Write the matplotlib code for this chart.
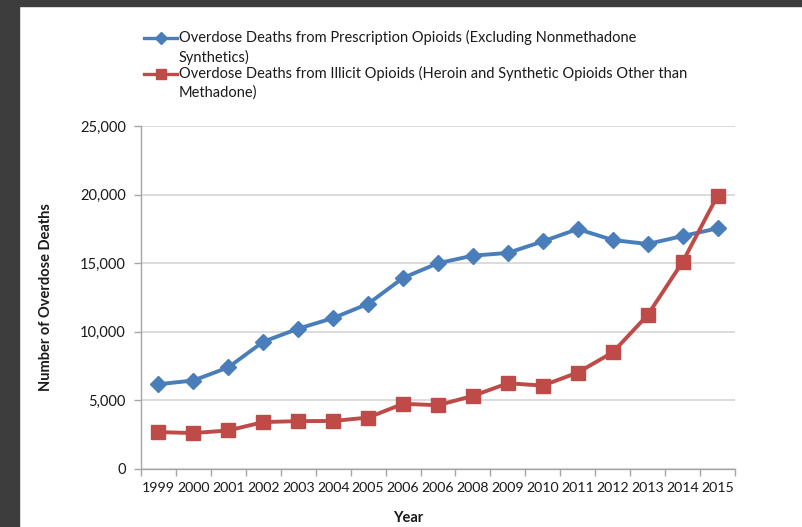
import matplotlib
matplotlib.use("Agg")
import matplotlib.pyplot as plt
from matplotlib.lines import Line2D
from matplotlib.patches import Rectangle
import numpy as np

# Overdose deaths per year
years = ["1999", "2000", "2001", "2002", "2003", "2004", "2005", "2006", "2006",
         "2008", "2009", "2010", "2011", "2012", "2013", "2014", "2015"]
prescription = [6180, 6450, 7410, 9280, 10230, 11000, 12040, 13930, 15000,
                15550, 15750, 16590, 17490, 16690, 16400, 16980, 17540]
illicit = [2690, 2620, 2810, 3420, 3490, 3500, 3750, 4750, 4650,
           5330, 6250, 6080, 7030, 8500, 11220, 15090, 19920]

rx_label = "Overdose Deaths from Prescription Opioids (Excluding Nonmethadone\nSynthetics)"
illicit_label = "Overdose Deaths from Illicit Opioids (Heroin and Synthetic Opioids Other than\nMethadone)"

BLUE = "#4a7ebb"
RED = "#be4b48"
GRID = "#d9d9d9"
AXIS = "#a6a6a6"
TEXT = "#1a1a1a"

plt.rcParams["font.family"] = ["Lato", "DejaVu Sans"]

fig = plt.figure(figsize=(8.02, 5.27), dpi=100)
fig.patch.set_facecolor("white")
ax = fig.add_axes([141 / 802, 58 / 527, 594 / 802, 343 / 527])

x = np.arange(len(years))
ax.plot(x, prescription, color=BLUE, lw=2.8, marker="D", ms=8.5, zorder=3)
ax.plot(x, illicit, color=RED, lw=2.8, marker="s", ms=9.5, zorder=3)

ax.set_xlim(-0.5, len(years) - 0.5)
ax.set_ylim(0, 25000)
ax.set_yticks(np.arange(0, 25001, 5000))
ax.set_yticklabels([f"{v:,}" for v in range(0, 25001, 5000)])
ax.grid(axis="y", color=GRID, lw=1.3)
ax.set_axisbelow(True)

# category labels at centres, tick marks on the boundaries
ax.set_xticks(x)
ax.set_xticklabels(years)
ax.set_xticks(np.arange(-0.5, len(years)), minor=True)
ax.tick_params(axis="x", which="major", length=0, pad=9, labelsize=10.2, labelcolor=TEXT)
ax.tick_params(axis="x", which="minor", length=5, width=1, color=AXIS)
ax.tick_params(axis="y", length=5, width=1, color=AXIS, pad=6, labelsize=10.5, labelcolor=TEXT)

for side in ("top", "right"):
    ax.spines[side].set_visible(False)
for side in ("left", "bottom"):
    ax.spines[side].set_color(AXIS)
    ax.spines[side].set_linewidth(1)

fig.text(46 / 802, 1 - 297 / 527, "Number of Overdose Deaths", rotation=90,
         ha="center", va="center", fontsize=10.5, fontweight="bold", color=TEXT)
fig.text(408 / 802, 1 - 518 / 527, "Year", ha="center", va="center",
         fontsize=10.5, fontweight="bold", color=TEXT)

# legend drawn above the plot, handle lined up with first text line
for y_px, color, marker, ms, label in [(38, BLUE, "D", 6.5, rx_label),
                                      (74, RED, "s", 7.5, illicit_label)]:
    yf = 1 - y_px / 527
    fig.add_artist(Line2D([144 / 802, 177 / 802], [yf, yf], color=color, lw=2.4,
                          transform=fig.transFigure))
    fig.add_artist(Line2D([160.5 / 802], [yf], color=color, marker=marker, ms=ms,
                          lw=0, transform=fig.transFigure))
    fig.text(179 / 802, yf + 8 / 527, label, ha="left", va="top", fontsize=10.5,
             color=TEXT, linespacing=1.4)

# dark frame strips along the top and left edges
fig.add_artist(Rectangle((0, 1 - 6 / 527), 1, 6 / 527, color="#3d3d3d",
                         transform=fig.transFigure, zorder=10))
fig.add_artist(Rectangle((0, 0), 19 / 802, 1, color="#3d3d3d",
                         transform=fig.transFigure, zorder=10))

fig.savefig("out.png", dpi=100)
